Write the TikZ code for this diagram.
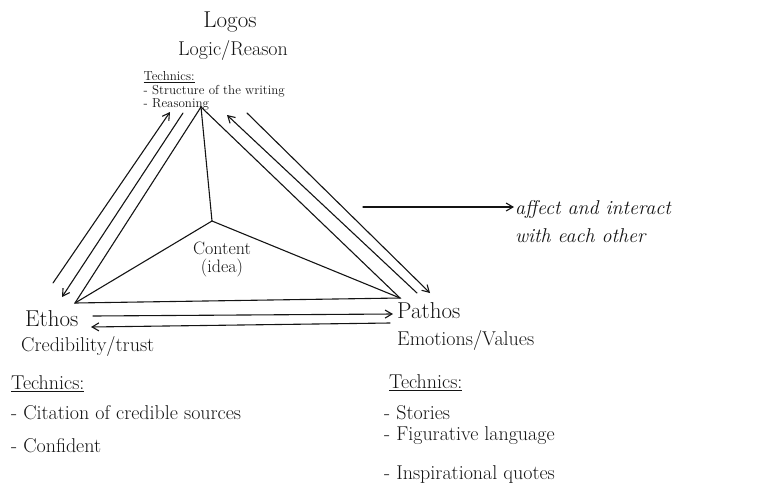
\documentclass[tikz,border=0pt]{standalone}
\usepackage{xcolor}
\usepackage{tikz}
\usetikzlibrary{arrows.meta}
\definecolor{inkP}{HTML}{141414}
\tikzset{
  tri/.style={line width=1.1pt, color=inkP, line cap=round},
  flow/.style={tri, -{Straight Barb[length=2.4mm, width=2.8mm]}},
  hhead/.style={font=\fontsize{23}{26}\selectfont, text=inkP, inner sep=1pt},
  hsub/.style={font=\fontsize{20}{23}\selectfont, text=inkP, inner sep=1pt},
  hnote/.style={font=\fontsize{20}{23}\selectfont, text=inkP, inner sep=1pt, anchor=west},
  hnotesm/.style={font=\fontsize{13}{15}\selectfont, text=inkP, inner sep=0.5pt, anchor=west},
}

\begin{document}
\begin{tikzpicture}[x=1pt, y=-1pt]
  \useasboundingbox (0,0) rectangle (761,496);
  % corners of the triangle
  \coordinate (apex) at (201,107);
  \coordinate (mid) at (212,221);
  \coordinate (ecorner) at (75,303);
  \coordinate (pcorner) at (400,298);
  \draw[tri] (apex) -- (ecorner) -- (pcorner) -- cycle;
  \draw[tri] (apex) -- (mid);
  \draw[tri] (mid) -- (ecorner);
  \draw[tri] (mid) -- (pcorner);
  \node[hsub, align=center, font=\fontsize{18}{20}\selectfont] (content) at (222,259)
    {Content\\[-2pt](idea)};

  % two-way arrows along the sides
  \coordinate (le1) at (53,283);   \coordinate (le2) at (170,112);
  \coordinate (lm1) at (183,113);  \coordinate (lm2) at (62,297);
  \coordinate (rm1) at (417,293);  \coordinate (rm2) at (227,115);
  \coordinate (ro1) at (247,113);  \coordinate (ro2) at (430,293);
  \coordinate (bu1) at (93,316);   \coordinate (bu2) at (393,314);
  \coordinate (bl1) at (390,323);  \coordinate (bl2) at (91,327);
  \draw[flow] (le1) -- (le2);
  \draw[flow] (lm1) -- (lm2);
  \draw[flow] (rm1) -- (rm2);
  \draw[flow] (ro1) -- (ro2);
  \draw[flow] (bu1) -- (bu2);
  \draw[flow] (bl1) -- (bl2);

  % logos
  \node[hhead] (logos) at (230,22) {Logos};
  \node[hsub] (logosdef) at (233,50) {Logic/Reason};
  \node[hnotesm] (logostech) at (143,77) {\underline{Technics:}};
  \node[hnotesm] (logosa) at (143,91) {- Structure of the writing};
  \node[hnotesm] (logosb) at (143,104) {- Reasoning};

  % ethos
  \node[hhead, anchor=west] (ethos) at (24,319) {Ethos};
  \node[hsub, anchor=west] (ethosdef) at (20,346) {Credibility/trust};
  \node[hnote] (ethostech) at (10,384) {\underline{Technics:}};
  \node[hnote] (ethosa) at (10,413) {- Citation of credible sources};
  \node[hnote] (ethosb) at (10,446) {- Confident};

  % pathos
  \node[hhead, anchor=west] (pathos) at (396,311) {Pathos};
  \node[hsub, anchor=west] (pathosdef) at (396,340) {Emotions/Values};
  \node[hnote] (pathostech) at (388,383) {\underline{Technics:}};
  \node[hnote] (pathosa) at (383,413) {- Stories};
  \node[hnote] (pathosb) at (383,436) {- Figurative language};
  \node[hnote] (pathosc) at (383,475) {- Inspirational quotes};

  % note on the right
  \coordinate (ns) at (363,207);
  \node[hnote, align=left, font=\fontsize{20}{28}\selectfont\itshape] (note) at (514,222)
    {affect and interact\\with each other};
  \draw[flow] (ns) -- (note.west |- ns);
\end{tikzpicture}
\end{document}
